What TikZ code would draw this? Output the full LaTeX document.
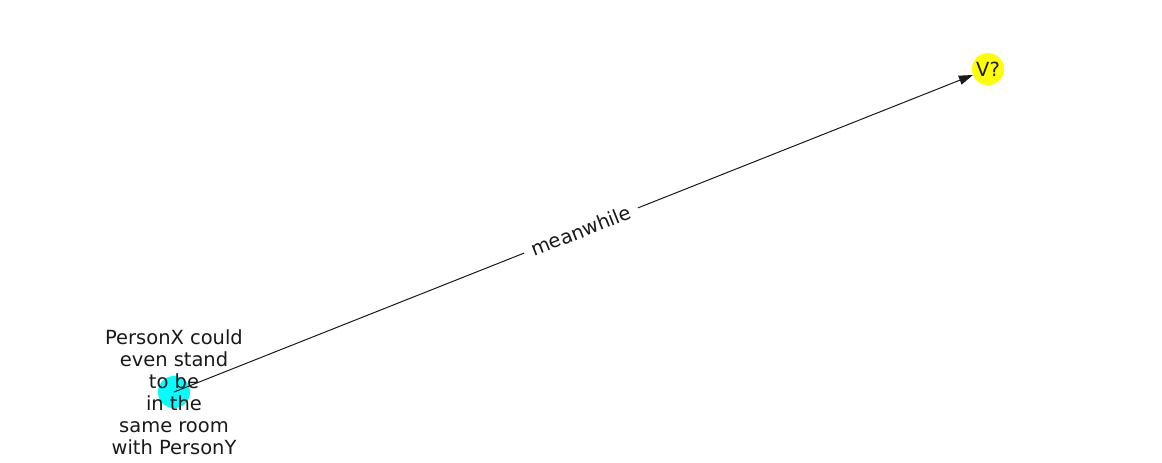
\documentclass[tikz,border=0pt]{standalone}
\usepackage{fontspec}
\setmainfont{DejaVu Sans}
\usetikzlibrary{
    arrows.meta,
    positioning
}
\definecolor{eventCyan}{rgb}{0,1,1}
\definecolor{eventYellow}{rgb}{1,1,0}
\tikzset{
    % --- Coloured event node (filled circle) ---
    event/.style = {
        circle, draw=none,
        minimum size=24pt, inner sep=0pt
    },
    % --- Text placed over an event node ---
    event text/.style = {
        font=\fontsize{14.6pt}{16.5pt}\selectfont,
        align=center, text=black!90, inner sep=0pt
    },
    % --- Relation arrow between events ---
    relation/.style = {
        -{Triangle[length=10.5pt, width=7pt]}, line width=0.75pt, black!90
    },
    % --- Relation label on the arrow ---
    relation label/.style = {
        font=\fontsize{14.6pt}{17pt}\selectfont,
        fill=white, inner xsep=6pt, inner ysep=3pt, text=black!90
    }
}

\begin{document}
\begin{tikzpicture}[x=0.75pt, y=-0.75pt]

% Canvas
\useasboundingbox (0,0) rectangle (1162,462);

% ---------------------------------------------------------
% Events
% ---------------------------------------------------------
\node[event, fill=eventCyan] (head) at (174, 392) {};
\node[event, fill=eventYellow] (tail) at (988, 69) {};

% ---------------------------------------------------------
% Relation (label centred between the two events)
% ---------------------------------------------------------
\draw[relation] (head.center) -- (tail);
\path (head.center) -- (tail.center)
    node[relation label, midway, sloped] (relText) {meanwhile};

% ---------------------------------------------------------
% Event texts
% ---------------------------------------------------------
\node[event text] (headText) at (head) {PersonX could\\even stand\\to be\\in the\\same room\\with PersonY};
\node[event text] (tailText) at (tail) {V?};

\end{tikzpicture}
\end{document}
